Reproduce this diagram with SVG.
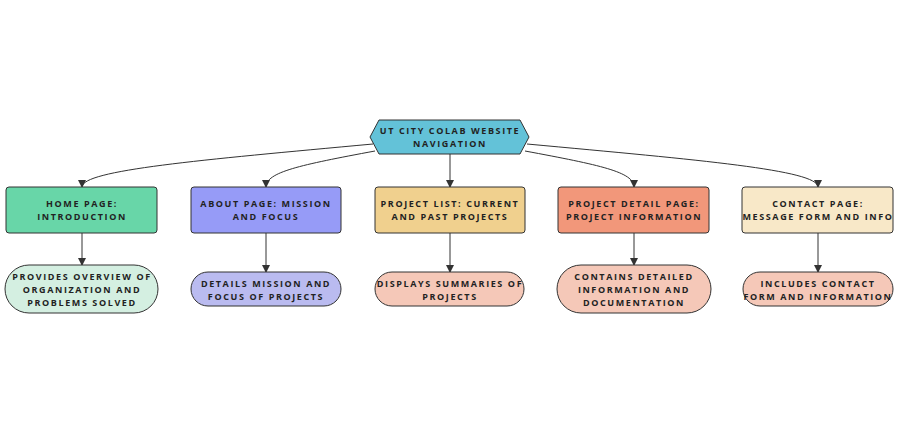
<svg xmlns="http://www.w3.org/2000/svg" width="899" height="434" viewBox="0 0 899 434">
<style>
text{font-family:"Open Sans","Liberation Sans",sans-serif;font-size:9px;font-weight:bold;letter-spacing:1.6px;fill:#222;text-anchor:middle}
.n{stroke:#333;stroke-width:1}
.e{fill:none;stroke:#333;stroke-width:1;marker-end:url(#a)}
</style>
<defs><marker id="a" markerWidth="8" markerHeight="8" refX="7" refY="4" orient="auto" markerUnits="userSpaceOnUse"><path d="M0,0L8,4L0,8z" fill="#333"/></marker></defs>
<rect width="899" height="434" fill="#fff"/>
<g id="connectors">
<path class="e" d="M373,144C200,160 82,170 82,187"/>
<path class="e" d="M375,151C300,165 266,172 266,187"/>
<path class="e" d="M450,154L450,187"/>
<path class="e" d="M525,151C600,165 634,172 634,187"/>
<path class="e" d="M527,144C700,160 818,170 818,187"/>
<path class="e" d="M82,233L82,265"/>
<path class="e" d="M266,233L266,272"/>
<path class="e" d="M450,233L450,272"/>
<path class="e" d="M634,233L634,265"/>
<path class="e" d="M818,233L818,272"/>
</g>
<g id="root"><polygon class="n" fill="#63c2d8" points="370,137 379,120 520,120 529,137 520,154 379,154"/><text x="450" y="134">UT CITY COLAB WEBSITE</text><text x="450" y="147">NAVIGATION</text></g>
<g id="home"><rect class="n" x="6" y="187" width="151" height="46" rx="3" fill="#68d6a8"/><text x="82" y="207">HOME PAGE:</text><text x="82" y="220">INTRODUCTION</text></g>
<g id="about"><rect class="n" x="191" y="187" width="150" height="46" rx="3" fill="#969bf7"/><text x="266" y="207">ABOUT PAGE: MISSION</text><text x="266" y="220">AND FOCUS</text></g>
<g id="list"><rect class="n" x="375" y="187" width="150" height="46" rx="3" fill="#f0d08e"/><text x="450" y="207">PROJECT LIST: CURRENT</text><text x="450" y="220">AND PAST PROJECTS</text></g>
<g id="detail"><rect class="n" x="558" y="187" width="151" height="46" rx="3" fill="#f2977a"/><text x="634" y="207">PROJECT DETAIL PAGE:</text><text x="634" y="220">PROJECT INFORMATION</text></g>
<g id="contact"><rect class="n" x="742" y="187" width="151" height="46" rx="3" fill="#f8e8c8"/><text x="818" y="207">CONTACT PAGE:</text><text x="818" y="220">MESSAGE FORM AND INFO</text></g>
<g id="home_d"><rect class="n" x="5" y="265" width="153" height="48" rx="24" fill="#d4efe1"/><text x="82" y="280">PROVIDES OVERVIEW OF</text><text x="82" y="293">ORGANIZATION AND</text><text x="82" y="306">PROBLEMS SOLVED</text></g>
<g id="about_d"><rect class="n" x="191" y="272" width="150" height="34" rx="17" fill="#babbf0"/><text x="266" y="287">DETAILS MISSION AND</text><text x="266" y="300">FOCUS OF PROJECTS</text></g>
<g id="list_d"><rect class="n" x="375" y="272" width="149" height="34" rx="17" fill="#f5c8b8"/><text x="450" y="287">DISPLAYS SUMMARIES OF</text><text x="450" y="300">PROJECTS</text></g>
<g id="detail_d"><rect class="n" x="557" y="265" width="154" height="48" rx="24" fill="#f5c8b8"/><text x="634" y="280">CONTAINS DETAILED</text><text x="634" y="293">INFORMATION AND</text><text x="634" y="306">DOCUMENTATION</text></g>
<g id="contact_d"><rect class="n" x="743" y="272" width="150" height="34" rx="17" fill="#f5c8b8"/><text x="818" y="287">INCLUDES CONTACT</text><text x="818" y="300">FORM AND INFORMATION</text></g>
</svg>
